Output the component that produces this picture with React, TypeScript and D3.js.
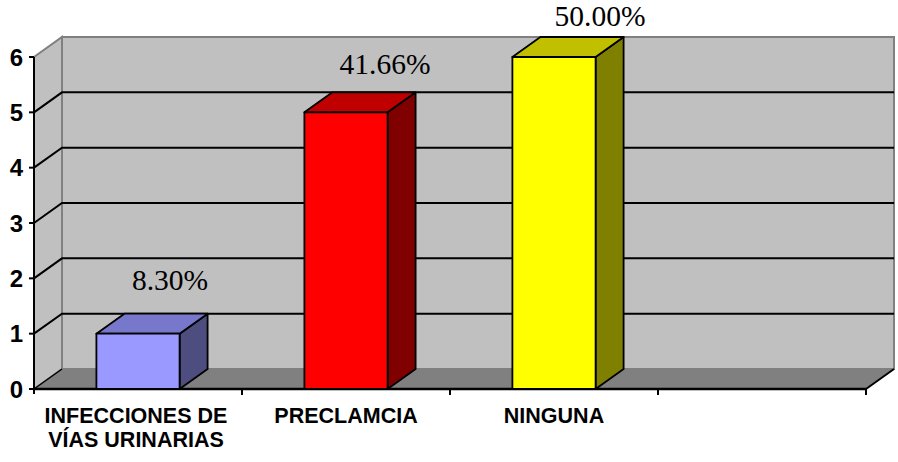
import React from "react";
import * as d3 from "d3";

// Categories (label lines) and counts; the fourth slot is left empty.
const categoryLines: string[][] = [
  ["INFECCIONES DE", "VÍAS URINARIAS"],
  ["PRECLAMCIA"],
  ["NINGUNA"],
  [""],
];
const counts: number[] = [1, 5, 6];
const percentLabels: string[] = ["8.30%", "41.66%", "50.00%"];
const yTicks: number[] = [0, 1, 2, 3, 4, 5, 6];

const frontColors = ["#9999FF", "#FF0000", "#FFFF00"];
const topColors = ["#7777CC", "#C00000", "#C0C000"];
const sideColors = ["#4D4D80", "#800000", "#808000"];

const W = 898;
const H = 462;
const X0 = 34;
const X1 = 866;
const DX = 28; // depth offset to the back wall
const DY = -20;

export default function App() {
  const keys = categoryLines.map((_, i) => String(i));
  const x = d3.scaleBand<string>().domain(keys).range([X0, X1]).paddingInner(0.6).paddingOuter(0.3);
  const y = d3.scaleLinear().domain([0, 6]).range([389, 57]);
  const step = x.step();
  const bw = x.bandwidth();
  const yTop = y(6);
  const yBase = y(0);
  const pts = (p: number[][]) => p.map((q) => q.join(",")).join(" ");

  return (
    <svg width={W} height={H} style={{ display: "block", position: "absolute", left: 0, top: 0 }}>
      <rect width={W} height={H} fill="#FFFFFF" />
      {/* back wall */}
      <rect x={X0 + DX} y={yTop + DY} width={X1 - X0} height={yBase - yTop} fill="#C0C0C0" stroke="#808080" strokeWidth={2} />
      {/* side wall */}
      <polygon
        points={pts([[X0, yBase], [X0 + DX, yBase + DY], [X0 + DX, yTop + DY], [X0, yTop]])}
        fill="#C0C0C0"
        stroke="#808080"
        strokeWidth={2}
      />
      {/* floor */}
      <polygon
        points={pts([[X0, yBase], [X1, yBase], [X1 + DX, yBase + DY], [X0 + DX, yBase + DY]])}
        fill="#808080"
      />
      {/* gridlines */}
      {yTicks.slice(1, -1).map((v) => (
        <polyline
          key={v}
          points={pts([[X0, y(v)], [X0 + DX, y(v) + DY], [X1 + DX, y(v) + DY]])}
          fill="none"
          stroke="#000"
          strokeWidth={2}
        />
      ))}
      <line x1={X0} y1={yBase} x2={X0 + DX} y2={yBase + DY} stroke="#000" strokeWidth={1.5} />
      <line x1={X1} y1={yBase} x2={X1 + DX} y2={yBase + DY} stroke="#000" strokeWidth={2} />
      {/* value axis */}
      <line x1={X0} y1={yTop} x2={X0} y2={yBase + 5} stroke="#000" strokeWidth={2} />
      {yTicks.map((v) => (
        <g key={v}>
          <line x1={X0 - 5} y1={y(v)} x2={X0} y2={y(v)} stroke="#000" strokeWidth={2} />
          <text
            x={X0 - 11}
            y={y(v)}
            textAnchor="end"
            dominantBaseline="central"
            fontFamily="Liberation Sans, Arial, sans-serif"
            fontWeight="bold"
            fontSize={24}
          >
            {v}
          </text>
        </g>
      ))}
      {/* category axis */}
      <line x1={X0} y1={yBase} x2={X1} y2={yBase} stroke="#000" strokeWidth={2.5} />
      {keys.map((k) => (
        <line key={k} x1={x(k)! - step * 0.3 + step} y1={yBase} x2={x(k)! - step * 0.3 + step} y2={yBase + 6} stroke="#000" strokeWidth={2} />
      ))}
      {categoryLines.map((lines, i) => {
        const cx = x(String(i))! + bw / 2 - (lines.length > 1 ? 2 : 0);
        return (
          <text
            key={i}
            x={cx}
            y={423}
            textAnchor="middle"
            fontFamily="Liberation Sans, Arial, sans-serif"
            fontWeight="bold"
            fontSize={21.5}
          >
            {lines.map((ln, j) => (
              <tspan key={j} x={cx} dy={j === 0 ? 0 : 24}>
                {ln}
              </tspan>
            ))}
          </text>
        );
      })}
      {/* bars */}
      {counts.map((c, i) => {
        const bx = x(String(i))!;
        const top = y(c);
        return (
          <g key={i} stroke="#000" strokeWidth={1.8} strokeLinejoin="round">
            <polygon
              points={pts([[bx + bw, top], [bx + bw + DX, top + DY], [bx + bw + DX, yBase + DY], [bx + bw, yBase]])}
              fill={sideColors[i]}
            />
            <polygon
              points={pts([[bx, top], [bx + DX, top + DY], [bx + bw + DX, top + DY], [bx + bw, top]])}
              fill={topColors[i]}
            />
            <rect x={bx} y={top} width={bw} height={yBase - top} fill={frontColors[i]} />
          </g>
        );
      })}
      {/* value labels */}
      {counts.map((c, i) => (
        <text
          key={i}
          x={x(String(i))! + bw / 2 + DX + 4 + i * 7}
          y={y(c) + DY - (24 - 6 * i) + (i === counts.length - 1 ? 1 : 0)}
          textAnchor="middle"
          fontFamily="Liberation Serif, Times New Roman, serif"
          fontSize={29.5}
        >
          {percentLabels[i]}
        </text>
      ))}
    </svg>
  );
}
